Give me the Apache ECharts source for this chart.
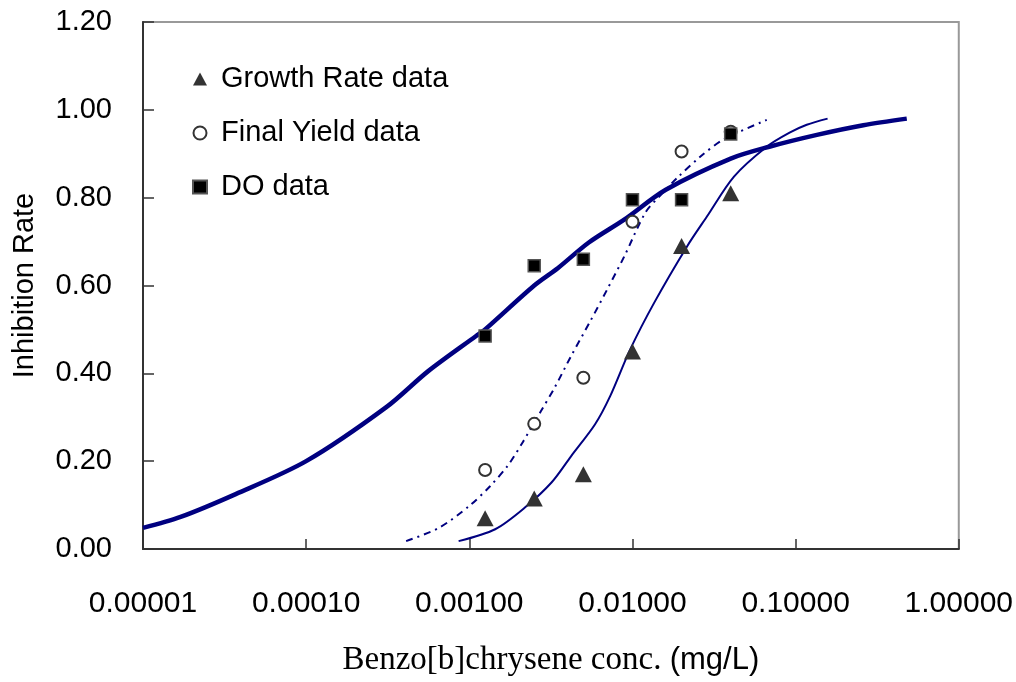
<!DOCTYPE html>
<html>
<head>
<meta charset="utf-8">
<script src="https://cdn.jsdelivr.net/npm/echarts@6/dist/echarts.min.js"></script>
<style>
  html, body { margin: 0; padding: 0; background: #fff; }
  #main { width: 1016px; height: 682px; }
</style>
</head>
<body>
<div id="main"></div>
<script>
// measured concentrations (mg/L)
var conc = [0.00125, 0.0025, 0.005, 0.01, 0.02, 0.04];
var growthRate = [0.07, 0.115, 0.17, 0.45, 0.69, 0.81];
var finalYield = [0.18, 0.285, 0.39, 0.745, 0.905, 0.95];
var doData = [0.485, 0.645, 0.66, 0.795, 0.795, 0.945];

// fitted curves
var doFitX = [0.00001, 0.000017, 0.000037, 0.0001, 0.00031, 0.00056, 0.0011, 0.00125, 0.0025, 0.0035, 0.0054, 0.0089, 0.016, 0.04, 0.069, 0.135, 0.26, 0.48];
var doFitY = [0.048, 0.073, 0.125, 0.20, 0.323, 0.405, 0.485, 0.50, 0.60, 0.64, 0.698, 0.75, 0.818, 0.889, 0.916, 0.943, 0.965, 0.98];

var fyFitX = [0.00041, 0.00065, 0.001, 0.00134, 0.00173, 0.00214, 0.00275, 0.00334, 0.0042, 0.0055, 0.007, 0.0089, 0.012, 0.0148, 0.0188, 0.026, 0.036, 0.0665];
var fyFitY = [0.018, 0.048, 0.098, 0.143, 0.191, 0.245, 0.314, 0.368, 0.439, 0.518, 0.591, 0.666, 0.766, 0.805, 0.845, 0.893, 0.932, 0.977];

var grFitX = [0.00086, 0.00144, 0.0022, 0.0032, 0.0042, 0.0059, 0.0073, 0.0097, 0.0136, 0.0216, 0.0286, 0.0419, 0.0665, 0.0918, 0.117, 0.157];
var grFitY = [0.018, 0.045, 0.095, 0.152, 0.211, 0.284, 0.348, 0.455, 0.561, 0.689, 0.757, 0.848, 0.916, 0.948, 0.966, 0.98];

function pairs(xs, ys) {
   return xs.map(function (x, i) { return [x, ys[i]]; });
}

var chart = echarts.init(document.getElementById('main'));
var navy = '#000080';

chart.setOption({
   animation: false,
   grid: {
      left: 143, right: 56, top: 22, bottom: 132,
      show: true, borderColor: '#999', borderWidth: 2
   },
   legend: {
      orient: 'vertical',
      left: 187, top: 59,
      itemWidth: 14, itemHeight: 13,
      itemGap: 24,
      data: ['Growth Rate data', 'Final Yield data', 'DO data'],
      textStyle: {
         fontFamily: 'Liberation Sans', fontSize: 29, color: '#000',
         lineHeight: 30, padding: [0, 0, 0, 9]
      }
   },
   xAxis: {
      type: 'log', logBase: 10, min: 0.00001, max: 1,
      name: '{a|Benzo[b]chrysene conc. }{b|(mg/L)}',
      nameLocation: 'middle', nameGap: 95,
      nameTextStyle: {
         rich: {
            a: { fontFamily: 'Liberation Serif', fontSize: 33, color: '#000' },
            b: { fontFamily: 'Liberation Sans', fontSize: 31, color: '#000' }
         }
      },
      axisLine: { lineStyle: { color: '#333', width: 2 } },
      axisTick: { inside: true, length: 10, lineStyle: { color: '#333', width: 1.5 } },
      minorTick: { show: false },
      splitLine: { show: false },
      axisLabel: {
         margin: 40, fontFamily: 'Liberation Sans', fontSize: 30, color: '#000',
         formatter: function (v) { return v.toFixed(5); }
      }
   },
   yAxis: {
      type: 'value', min: 0, max: 1.2, interval: 0.2,
      name: 'Inhibition Rate',
      nameLocation: 'middle', nameGap: 104,
      nameTextStyle: { fontFamily: 'Liberation Sans', fontSize: 29, color: '#000' },
      axisLine: { show: true, lineStyle: { color: '#333', width: 2 } },
      axisTick: { show: true, inside: true, length: 11, lineStyle: { color: '#333', width: 1.5 } },
      splitLine: { show: false },
      axisLabel: {
         margin: 31, fontFamily: 'Liberation Sans', fontSize: 29, color: '#000',
         formatter: function (v) { return v.toFixed(2); }
      }
   },
   series: [
      {
         type: 'line', data: pairs(doFitX, doFitY), smooth: 0.3,
         symbol: 'none', lineStyle: { color: navy, width: 4.5 }, z: 2
      },
      {
         type: 'line', data: pairs(fyFitX, fyFitY), smooth: 0.3,
         symbol: 'none', lineStyle: { color: navy, width: 2, type: [7, 5, 2, 5] }, z: 2
      },
      {
         type: 'line', data: pairs(grFitX, grFitY), smooth: 0.3,
         symbol: 'none', lineStyle: { color: navy, width: 2 }, z: 2
      },
      {
         name: 'Final Yield data', type: 'scatter', data: pairs(conc, finalYield),
         symbol: 'circle', symbolSize: 12,
         itemStyle: { color: '#fff', borderColor: '#333', borderWidth: 2, opacity: 1 }, z: 3
      },
      {
         name: 'Growth Rate data', type: 'scatter', data: pairs(conc, growthRate),
         symbol: 'triangle', symbolSize: [17, 16],
         itemStyle: { color: '#333', opacity: 1 }, z: 4
      },
      {
         name: 'DO data', type: 'scatter', data: pairs(conc, doData),
         symbol: 'rect', symbolSize: 12,
         itemStyle: { color: '#000', borderColor: '#555', borderWidth: 1.5, opacity: 1 }, z: 5
      }
   ]
});
</script>
</body>
</html>
